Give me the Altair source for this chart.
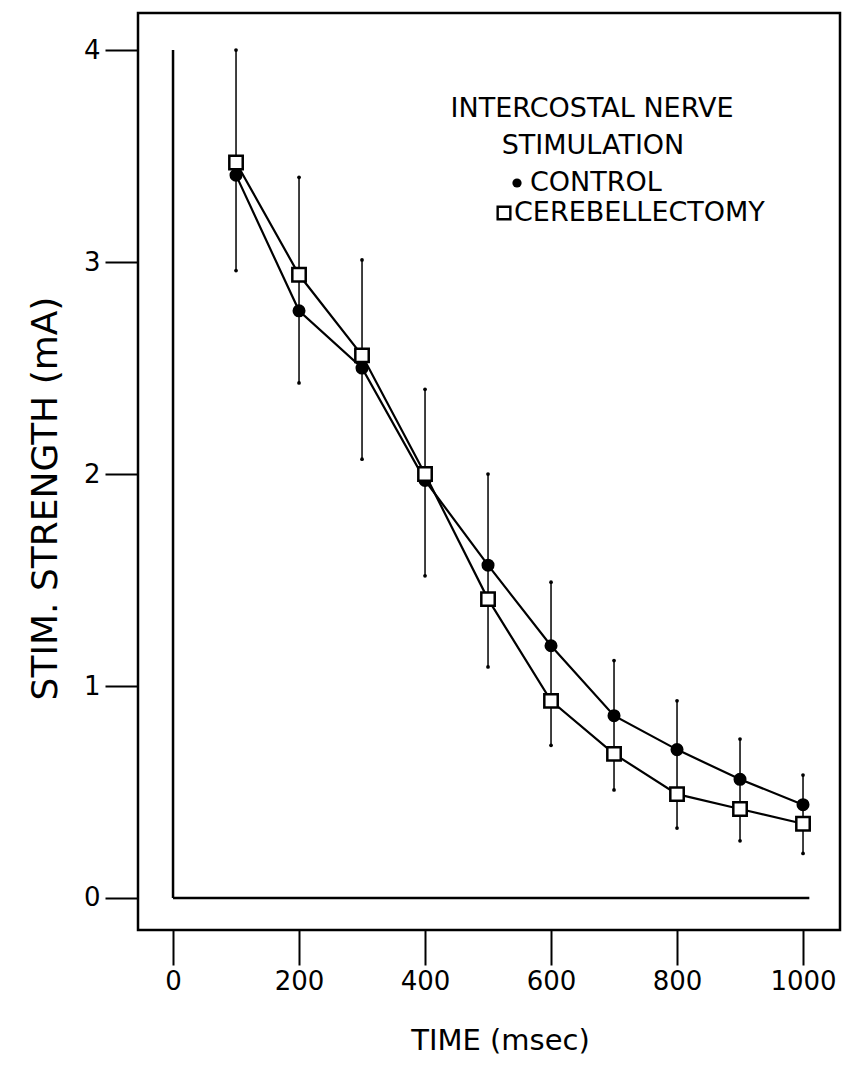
import altair as alt
import pandas as pd

# ---- data ----
time_ms = [100, 200, 300, 400, 500, 600, 700, 800, 900, 1000]
control = [3.41, 2.77, 2.50, 1.97, 1.57, 1.19, 0.86, 0.70, 0.56, 0.44]
cerebellectomy = [3.47, 2.94, 2.56, 2.00, 1.41, 0.93, 0.68, 0.49, 0.42, 0.35]
err_high = [4.00, 3.40, 3.01, 2.40, 2.00, 1.49, 1.12, 0.93, 0.75, 0.58]
err_low = [2.96, 2.43, 2.07, 1.52, 1.09, 0.72, 0.51, 0.33, 0.27, 0.21]

x_ticks = [0, 200, 400, 600, 800, 1000]
y_ticks = [0, 1, 2, 3, 4]

# inner L-shaped axis lines drawn inside the frame
inner_x = [0, 0]
inner_x2 = [0, 1010]
inner_y = [0, 0]
inner_y2 = [4, 0]

legend_lines = ["INTERCOSTAL NERVE", "STIMULATION"]
legend_labels = ["CONTROL", "CEREBELLECTOMY"]

FONT = "DejaVu Sans"
LEG_FS = 27

df = pd.DataFrame({
    "t": time_ms,
    "control": control,
    "cereb": cerebellectomy,
    "lo": err_low,
    "hi": err_high,
})
inner_df = pd.DataFrame({"t": inner_x, "t2": inner_x2, "v": inner_y, "v2": inner_y2})

xs = alt.Scale(domain=[-55.6, 1058.7], nice=False, zero=False)
ys = alt.Scale(domain=[-0.151, 4.175], nice=False, zero=False)

x_axis = alt.Axis(
    values=x_ticks, format="d", tickSize=35, tickWidth=2, tickColor="black",
    labelFontSize=26, labelFont=FONT, labelColor="black", labelPadding=3,
    title="TIME (msec)", titleFont=FONT, titleFontSize=29, titleFontWeight="normal",
    titleColor="black", titleX=362, titleY=110, titleBaseline="middle", titleAlign="center",
    domain=False, grid=False,
)
y_axis = alt.Axis(
    values=y_ticks, format="d", tickSize=33, tickWidth=2, tickColor="black",
    labelFontSize=26, labelFont=FONT, labelColor="black", labelPadding=5,
    title="STIM. STRENGTH (mA)", titleFont=FONT, titleFontSize=36, titleFontWeight="normal",
    titleColor="black", titleAngle=270, titleX=-93, titleY=485,
    titleBaseline="middle", titleAlign="center",
    domain=False, grid=False,
)

def X(field):
    return alt.X(f"{field}:Q", scale=xs, axis=x_axis)

def Y(field):
    return alt.Y(f"{field}:Q", scale=ys, axis=y_axis)

base = alt.Chart(df)

inner = alt.Chart(inner_df).mark_rule(color="black", strokeWidth=2.5).encode(
    x=X("t"), x2="t2", y=Y("v"), y2="v2"
)

bars = base.mark_rule(color="black", strokeWidth=1.5).encode(x=X("t"), y=Y("lo"), y2="hi")
cap_lo = base.mark_circle(color="black", size=14, opacity=1).encode(x=X("t"), y=Y("lo"))
cap_hi = base.mark_circle(color="black", size=14, opacity=1).encode(x=X("t"), y=Y("hi"))

line_c = base.mark_line(color="black", strokeWidth=2.2).encode(x=X("t"), y=Y("control"))
line_k = base.mark_line(color="black", strokeWidth=2.2).encode(x=X("t"), y=Y("cereb"))

pts_c = base.mark_point(shape="circle", filled=True, color="black", size=170, opacity=1).encode(
    x=X("t"), y=Y("control"))
pts_k = base.mark_point(shape="square", filled=False, color="black", fill="white",
                        fillOpacity=1, strokeWidth=2.5, size=180, opacity=1).encode(
    x=X("t"), y=Y("cereb"))

# legend built from text and symbol marks
leg_title1 = alt.Chart(pd.DataFrame({"s": [legend_lines[0]]})).mark_text(
    font=FONT, fontSize=LEG_FS, color="black", align="center", baseline="middle"
).encode(text="s:N", x=alt.value(454), y=alt.value(96))
leg_title2 = alt.Chart(pd.DataFrame({"s": [legend_lines[1]]})).mark_text(
    font=FONT, fontSize=LEG_FS, color="black", align="center", baseline="middle"
).encode(text="s:N", x=alt.value(455), y=alt.value(133))
leg_c_sym = alt.Chart(pd.DataFrame({"s": [legend_labels[0]]})).mark_point(
    shape="circle", filled=True, color="black", size=85, opacity=1
).encode(x=alt.value(379), y=alt.value(170))
leg_c_txt = alt.Chart(pd.DataFrame({"s": [legend_labels[0]]})).mark_text(
    font=FONT, fontSize=LEG_FS, color="black", align="left", baseline="middle"
).encode(text="s:N", x=alt.value(392), y=alt.value(170))
leg_k_sym = alt.Chart(pd.DataFrame({"s": [legend_labels[1]]})).mark_point(
    shape="square", filled=False, color="black", strokeWidth=2.4, size=160, opacity=1
).encode(x=alt.value(366), y=alt.value(200))
leg_k_txt = alt.Chart(pd.DataFrame({"s": [legend_labels[1]]})).mark_text(
    font=FONT, fontSize=LEG_FS, color="black", align="left", baseline="middle"
).encode(text="s:N", x=alt.value(376), y=alt.value(200))

chart = alt.layer(
    inner, bars, cap_lo, cap_hi, line_c, line_k, pts_c, pts_k,
    leg_title1, leg_title2, leg_c_sym, leg_c_txt, leg_k_sym, leg_k_txt,
).properties(
    width=702, height=917,
    autosize=alt.AutoSizeParams(type="none"),
    padding={"left": 138, "top": 13, "right": 4, "bottom": 140},
    background="white",
).configure_view(
    stroke="black", strokeWidth=2.5
)

chart.save("out.html", embed_options={"renderer": "svg", "actions": False})
